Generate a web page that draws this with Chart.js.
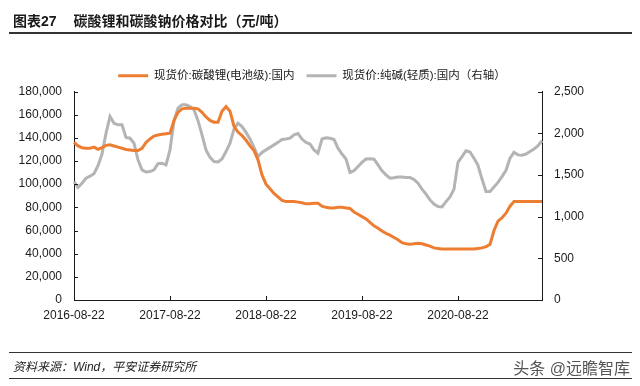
<!DOCTYPE html>
<html>
<head>
<meta charset="utf-8">
<script src="https://cdn.jsdelivr.net/npm/chart.js@4.4.1/dist/chart.umd.min.js"></script>
<style>
  html, body { margin: 0; padding: 0; background: #fff; }
  body { width: 640px; height: 386px; position: relative; overflow: hidden;
         font-family: "Liberation Sans", "Noto Sans CJK SC", sans-serif; }
  #wrap { position: absolute; left: 0; top: 0; width: 640px; height: 386px; }
  .title { position: absolute; left: 13px; top: 10px; font-size: 14px; font-weight: bold; color: #1a1a1a; white-space: nowrap; }
  .title .num { margin-right: 17px; }
  .rule1 { position: absolute; left: 9px; width: 623px; top: 32px; height: 2px; background: #333; }
  .rule2 { position: absolute; left: 9px; width: 623px; top: 352px; height: 1px; background: #333; }
  .rule3 { position: absolute; left: 9px; width: 623px; top: 378px; height: 1px; background: #333; }
  .src { position: absolute; left: 13px; top: 357px; font-size: 12px; font-style: italic; color: #222; white-space: nowrap; }
  .wm { position: absolute; right: 10px; top: 355px; font-size: 16px; color: #555; white-space: nowrap; }
</style>
</head>
<body>
<div id="wrap"><canvas id="c" width="640" height="386"></canvas></div>
<div class="title"><span class="num">图表27</span>碳酸锂和碳酸钠价格对比（元/吨）</div>
<div class="rule1"></div>
<div class="rule2"></div>
<div class="src">资料来源：Wind，平安证券研究所</div>
<div class="rule3"></div>
<div class="wm">头条 @远瞻智库</div>
<script>
// ---- data (half-monthly readings from the reference) ----
const seriesNames = ["现货价:碳酸锂(电池级):国内", "现货价:纯碱(轻质):国内（右轴）"];
const tickLabels = ["2016-08-22", "2017-08-22", "2018-08-22", "2019-08-22", "2020-08-22"];

const lithium = [
  136000,133000,131500,131000,131000,132000,130000,131500,133500,134000,
  133000,132000,131000,130000,129500,129000,129000,131000,136000,139000,
  141500,142500,143000,143500,144000,155000,162000,165000,165500,165500,
  165500,165000,162000,158000,155000,153500,153500,163000,167000,163000,
  150000,145000,142000,138000,133000,129000,121000,108000,100000,96000,
  92000,89000,86000,85000,85000,85000,84500,84000,83000,83000,
  83500,83500,81000,80000,79500,79500,80000,80000,79500,79000,
  76000,74000,72000,70000,67000,64000,62000,59500,57500,56000,
  54000,52000,49500,48500,48200,48500,49000,48500,47500,46500,
  45000,44500,44000,44000,44000,44000,44000,44000,44000,44000,
  44000,44500,45000,46000,48000,60000,68000,71000,75000,81000,
  85000,85000,85000,85000,85000,85000,85000,85000
];
const sodaAsh = [
  1420,1350,1400,1460,1485,1515,1610,1750,2000,2200,
  2120,2100,2100,1950,1940,1880,1680,1560,1535,1540,
  1560,1635,1640,1620,1800,2150,2300,2340,2340,2320,
  2280,2150,1980,1800,1710,1660,1655,1690,1780,1880,
  2050,2120,2080,2010,1930,1830,1720,1770,1800,1830,
  1860,1890,1925,1930,1940,1980,1995,1930,1890,1870,
  1800,1760,1930,1945,1940,1925,1820,1750,1690,1530,
  1550,1600,1650,1690,1695,1690,1620,1550,1500,1460,
  1465,1475,1476,1470,1468,1445,1400,1330,1270,1200,
  1150,1120,1115,1180,1235,1330,1650,1720,1790,1775,
  1700,1614,1450,1300,1300,1355,1410,1480,1555,1700,
  1770,1740,1735,1750,1780,1810,1850,1910
];

// half-monthly category dates: 22nd and 7th of each month from 2016-08-22
const dates = [];
for (let i = 0; i < lithium.length; i++) {
  const m = Math.floor((i + 1) / 2);
  const d = new Date(2016, 7 + m, i % 2 === 0 ? 22 : 7);
  const s = d.getFullYear() + "-" + String(d.getMonth() + 1).padStart(2, "0") + "-" + String(d.getDate()).padStart(2, "0");
  dates.push(s);
}

const ORANGE = "#ED7D31";
const GRAY = "#B4B4B4";
const AXIS = "#1a1a1a";
const FONT = "'Liberation Sans', 'Noto Sans CJK SC', sans-serif";

const inwardTicks = {
  id: "inwardTicks",
  afterDraw(chart) {
    const ctx = chart.ctx;
    const L = 4;
    ctx.save();
    ctx.strokeStyle = AXIS;
    ctx.lineWidth = 1;
    const xs = chart.scales.x, yl = chart.scales.y, yr = chart.scales.y2;
    ctx.beginPath();
    xs.ticks.forEach((t, i) => {
      const px = Math.round(xs.getPixelForTick(i)) + 0.5;
      ctx.moveTo(px, xs.top); ctx.lineTo(px, xs.top - L);
    });
    yl.ticks.forEach((t, i) => {
      const py = Math.round(yl.getPixelForTick(i)) + 0.5;
      ctx.moveTo(yl.right, py); ctx.lineTo(yl.right + L, py);
    });
    yr.ticks.forEach((t, i) => {
      const py = Math.round(yr.getPixelForTick(i)) + 0.5;
      ctx.moveTo(yr.left, py); ctx.lineTo(yr.left - L, py);
    });
    ctx.stroke();
    ctx.restore();
  }
};

new Chart(document.getElementById("c"), {
  type: "line",
  data: {
    labels: dates,
    datasets: [
      { label: seriesNames[0], data: lithium, yAxisID: "y", borderColor: ORANGE, backgroundColor: ORANGE,
        borderWidth: 3, pointRadius: 0, tension: 0, order: 1 },
      { label: seriesNames[1], data: sodaAsh, yAxisID: "y2", borderColor: GRAY, backgroundColor: GRAY,
        borderWidth: 3, pointRadius: 0, tension: 0, order: 2 }
    ]
  },
  options: {
    responsive: false,
    animation: false,
    devicePixelRatio: 1,
    layout: { padding: { top: 58, left: 0, right: 16, bottom: 0 } },
    plugins: {
      tooltip: { enabled: false },
      legend: {
        display: true,
        position: "top",
        labels: {
          boxWidth: 30, boxHeight: 3, padding: 12,
          color: "#1a1a1a",
          font: { family: FONT, size: 11.5 },
          generateLabels(chart) {
            return chart.data.datasets.map((ds, i) => ({
              text: ds.label, fillStyle: ds.borderColor, strokeStyle: ds.borderColor,
              lineWidth: 0, hidden: false, datasetIndex: i, fontColor: "#1a1a1a"
            }));
          }
        }
      }
    },
    scales: {
      x: {
        type: "category",
        offset: false,
        grid: { display: true, drawOnChartArea: false, drawTicks: false },
        border: { display: true, color: AXIS, width: 1 },
        ticks: { autoSkip: false, maxRotation: 0, padding: 8, color: "#1a1a1a", font: { family: FONT, size: 12 } },
        afterBuildTicks(scale) {
          scale.ticks = scale.ticks.filter(t => tickLabels.includes(dates[t.value]));
        },
        afterFit(scale) { scale.height = 86; }
      },
      y: {
        position: "left", min: 0, max: 180000,
        grid: { display: true, drawOnChartArea: false, drawTicks: false },
        border: { display: true, color: AXIS, width: 1 },
        ticks: { stepSize: 20000, padding: 12, color: "#1a1a1a", font: { family: FONT, size: 12 },
                 callback: v => v.toLocaleString("en-US") },
        afterFit(scale) { scale.width = 74; }
      },
      y2: {
        position: "right", min: 0, max: 2500,
        grid: { display: true, drawOnChartArea: false, drawTicks: false },
        border: { display: true, color: AXIS, width: 1 },
        ticks: { stepSize: 500, padding: 12, color: "#1a1a1a", font: { family: FONT, size: 12 },
                 callback: v => v.toLocaleString("en-US") },
        afterFit(scale) { scale.width = 82; }
      }
    }
  },
  plugins: [inwardTicks]
});
</script>
</body>
</html>
